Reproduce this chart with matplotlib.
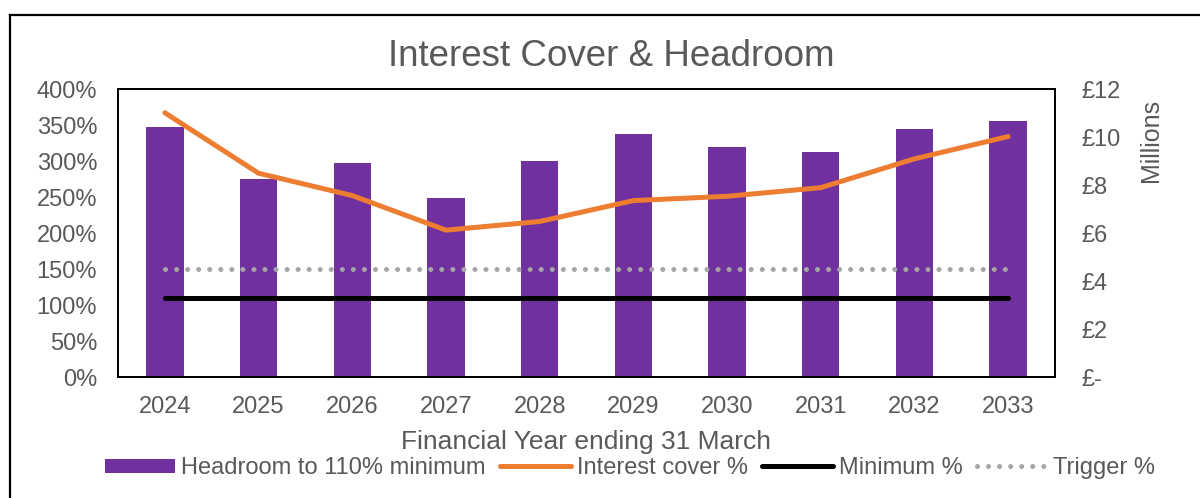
import matplotlib.pyplot as plt
from matplotlib.lines import Line2D
from matplotlib.ticker import FuncFormatter

plt.rcParams['font.family'] = ['Liberation Sans', 'DejaVu Sans']

years = ['2024', '2025', '2026', '2027', '2028', '2029', '2030', '2031', '2032', '2033']
headroom_m = [10.41, 8.27, 8.91, 7.47, 8.98, 10.14, 9.60, 9.36, 10.32, 10.66]   # £ millions
interest_cover = [3.67, 2.83, 2.52, 2.04, 2.16, 2.45, 2.51, 2.63, 3.03, 3.34]  # ratio
minimum = [1.10] * len(years)
trigger = [1.50] * len(years)

grey = '#595959'
x = range(len(years))

fig = plt.figure(figsize=(12, 4.98), dpi=100)
ax = fig.add_axes([118 / 1200, 1 - 377 / 498, (1055 - 118) / 1200, (377 - 89) / 498])
ax2 = ax.twinx()

# headroom bars on the secondary (£m) axis, lines on the primary (%) axis
bars = ax2.bar(x, headroom_m, width=0.4, color='#7030A0', zorder=1)
ax.set_zorder(ax2.get_zorder() + 1)
ax.patch.set_visible(False)

l_ic, = ax.plot(x, interest_cover, color='#ED7D31', lw=3.6, solid_capstyle='round',
                solid_joinstyle='round')
l_min, = ax.plot(x, minimum, color='black', lw=3.6, solid_capstyle='round')
l_trg, = ax.plot(x, trigger, color='#A5A5A5', lw=3.6, linestyle=(0, (0.01, 2.2)),
                 dash_capstyle='round')

ax.set_xlim(-0.5, len(years) - 0.5)
ax.set_ylim(0, 4)
ax.set_yticks([i * 0.5 for i in range(9)])
ax.yaxis.set_major_formatter(FuncFormatter(lambda v, p: f'{v * 100:.0f}%'))
ax.set_xticks(list(x))
ax.set_xticklabels(years)

ax2.set_ylim(0, 12)
ax2.set_yticks(range(0, 13, 2))
ax2.yaxis.set_major_formatter(FuncFormatter(lambda v, p: '£-' if v == 0 else f'£{v:.0f}'))

ax.tick_params(axis='y', length=0, pad=15, labelsize=17, labelcolor=grey)
ax.tick_params(axis='x', length=0, pad=14, labelsize=17, labelcolor=grey)
ax2.tick_params(axis='y', length=0, pad=19, labelsize=17, labelcolor=grey)

for a in (ax, ax2):
    for s in a.spines.values():
        s.set_color('black')
        s.set_linewidth(1.3)

fig.text(611 / 1200, 1 - 57 / 498, 'Interest Cover & Headroom', ha='center', va='center',
         fontsize=26.5, color=grey)
fig.text(586 / 1200, 1 - 442 / 498, 'Financial Year ending 31 March', ha='center', va='center',
         fontsize=19, color=grey)
fig.text(1151 / 1200, 1 - 140 / 498, 'Millions', ha='center', va='center', rotation=90,
         fontsize=18, color=grey)

fig.legend([bars, l_ic, l_min, l_trg],
           ['Headroom to 110% minimum', 'Interest cover %', 'Minimum %', 'Trigger %'],
           loc='center', bbox_to_anchor=(630 / 1200, 1 - 468 / 498), ncol=4, frameon=False,
           fontsize=17, labelcolor=grey, handlelength=3.0, handleheight=0.55,
           handletextpad=0.25, columnspacing=0.6, borderpad=0)

# chart area border (runs off the right and bottom edges)
fig.add_artist(Line2D([10 / 1200, 10 / 1200], [1 - 15 / 498, 0], transform=fig.transFigure,
                      color='black', lw=1.6))
fig.add_artist(Line2D([10 / 1200, 1], [1 - 15 / 498, 1 - 15 / 498], transform=fig.transFigure,
                      color='black', lw=1.6))

fig.savefig('out.png', dpi=100)
